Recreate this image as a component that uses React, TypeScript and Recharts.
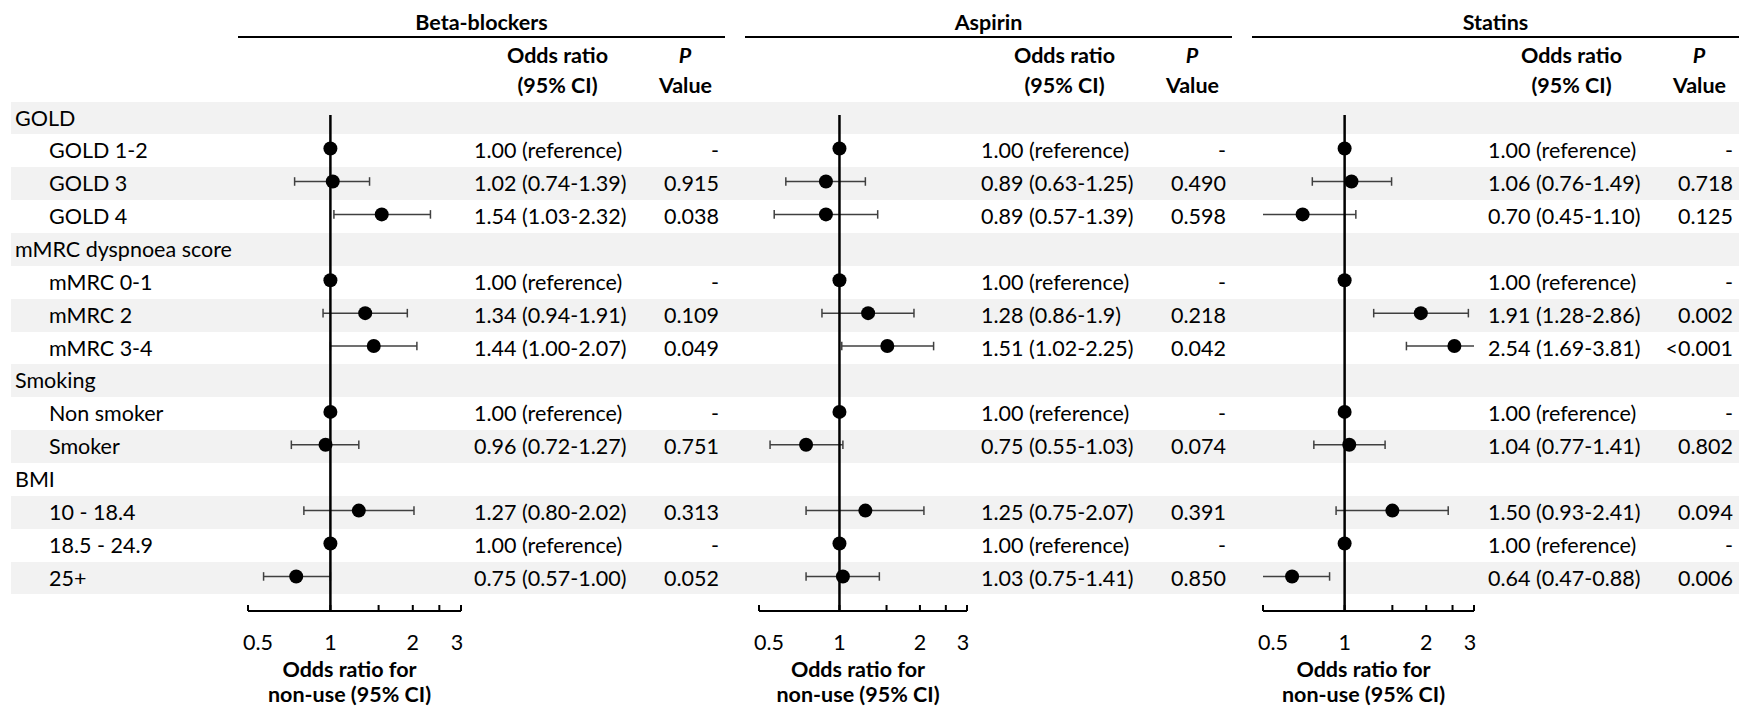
import React from 'react';
import { ScatterChart, Scatter, XAxis, YAxis, ReferenceLine } from 'recharts';

const drugNames = ['Beta-blockers', 'Aspirin', 'Statins'];

const rowLabels = [
  'GOLD', 'GOLD 1-2', 'GOLD 3', 'GOLD 4',
  'mMRC dyspnoea score', 'mMRC 0-1', 'mMRC 2', 'mMRC 3-4',
  'Smoking', 'Non smoker', 'Smoker',
  'BMI', '10 - 18.4', '18.5 - 24.9', '25+',
];
const isGroupRow = [true, false, false, false, true, false, false, false, true, false, false, true, false, false, false];

// Beta-blockers
const betaOr = [null, 1.0, 1.02, 1.54, null, 1.0, 1.34, 1.44, null, 1.0, 0.96, null, 1.27, 1.0, 0.75];
const betaLow = [null, null, 0.74, 1.03, null, null, 0.94, 1.0, null, null, 0.72, null, 0.8, null, 0.57];
const betaHigh = [null, null, 1.39, 2.32, null, null, 1.91, 2.07, null, null, 1.27, null, 2.02, null, 1.0];
const betaCi = ['', '1.00 (reference)', '1.02 (0.74-1.39)', '1.54 (1.03-2.32)', '', '1.00 (reference)', '1.34 (0.94-1.91)', '1.44 (1.00-2.07)', '', '1.00 (reference)', '0.96 (0.72-1.27)', '', '1.27 (0.80-2.02)', '1.00 (reference)', '0.75 (0.57-1.00)'];
const betaP = ['', '-', '0.915', '0.038', '', '-', '0.109', '0.049', '', '-', '0.751', '', '0.313', '-', '0.052'];

// Aspirin
const aspOr = [null, 1.0, 0.89, 0.89, null, 1.0, 1.28, 1.51, null, 1.0, 0.75, null, 1.25, 1.0, 1.03];
const aspLow = [null, null, 0.63, 0.57, null, null, 0.86, 1.02, null, null, 0.55, null, 0.75, null, 0.75];
const aspHigh = [null, null, 1.25, 1.39, null, null, 1.9, 2.25, null, null, 1.03, null, 2.07, null, 1.41];
const aspCi = ['', '1.00 (reference)', '0.89 (0.63-1.25)', '0.89 (0.57-1.39)', '', '1.00 (reference)', '1.28 (0.86-1.9)', '1.51 (1.02-2.25)', '', '1.00 (reference)', '0.75 (0.55-1.03)', '', '1.25 (0.75-2.07)', '1.00 (reference)', '1.03 (0.75-1.41)'];
const aspP = ['', '-', '0.490', '0.598', '', '-', '0.218', '0.042', '', '-', '0.074', '', '0.391', '-', '0.850'];

// Statins
const statOr = [null, 1.0, 1.06, 0.7, null, 1.0, 1.91, 2.54, null, 1.0, 1.04, null, 1.5, 1.0, 0.64];
const statLow = [null, null, 0.76, 0.45, null, null, 1.28, 1.69, null, null, 0.77, null, 0.93, null, 0.47];
const statHigh = [null, null, 1.49, 1.1, null, null, 2.86, 3.81, null, null, 1.41, null, 2.41, null, 0.88];
const statCi = ['', '1.00 (reference)', '1.06 (0.76-1.49)', '0.70 (0.45-1.10)', '', '1.00 (reference)', '1.91 (1.28-2.86)', '2.54 (1.69-3.81)', '', '1.00 (reference)', '1.04 (0.77-1.41)', '', '1.50 (0.93-2.41)', '1.00 (reference)', '0.64 (0.47-0.88)'];
const statP = ['', '-', '0.718', '0.125', '', '-', '0.002', '<0.001', '', '-', '0.802', '', '0.094', '-', '0.006'];

const xTicks = [0.5, 1, 1.5, 2, 2.5, 3];
const xTickLabels = [0.5, 1, 2, 3];
const X_MIN = 0.5;
const X_MAX = 3;

// layout
const W = 1739;
const H = 708;
const ROW0 = 118;
const ROWH = 32.86;
const PLOT_TOP = 115;
const PLOT_BOTTOM = 611;
const panelLeft = [238, 745, 1252];
const axisStart = [248, 759, 1263];
const axisEnd = [461, 967, 1474];
const PAD = 40;
const FONT = "Lato, 'Open Sans', sans-serif";
const FS = 21.5;

const panels = [
  { or: betaOr, low: betaLow, high: betaHigh, ci: betaCi, p: betaP },
  { or: aspOr, low: aspLow, high: aspHigh, ci: aspCi, p: aspP },
  { or: statOr, low: statLow, high: statHigh, ci: statCi, p: statP },
];

const OddsTick = (props: any) => {
  const { x, y, payload } = props;
  const show = xTickLabels.includes(payload.value);
  // end labels sit a little inside the axis, as in the source figure
  const dx = payload.value === X_MIN ? 10 : payload.value === X_MAX ? -4 : 0;
  return (
    <g>
      <line x1={x} x2={x} y1={y} y2={y - 6} stroke="#000" strokeWidth={2} />
      {show && (
        <text x={x + dx} y={y + 31} textAnchor="middle" dominantBaseline="central" fontSize={FS} fontFamily={FONT} fill="#000">
          {payload.value}
        </text>
      )}
    </g>
  );
};

const AxisTitle = (props: any) => {
  const { viewBox } = props;
  const cx = viewBox.x + viewBox.width / 2 - 5;
  return (
    <g fontFamily={FONT} fontSize={FS} fontWeight={700} fill="#000" textAnchor="middle">
      <text x={cx} y={viewBox.y + 58} dominantBaseline="central">Odds ratio for</text>
      <text x={cx} y={viewBox.y + 83} dominantBaseline="central">non-use (95% CI)</text>
    </g>
  );
};

const ForestPanel = ({ idx }: { idx: number }) => {
  const d = panels[idx];
  const points = d.or
    .map((v, i) => (v == null ? null : { x: v, y: i }))
    .filter(Boolean) as { x: number; y: number }[];
  const whiskers = d.low
    .map((lo, i) => (lo == null ? null : { lo: lo as number, hi: d.high[i] as number, y: i }))
    .filter(Boolean) as { lo: number; hi: number; y: number }[];

  const chartW = axisEnd[idx] - axisStart[idx] + PAD * 2;
  const chartH = H - PLOT_TOP;

  return (
    <div style={{ position: 'absolute', left: axisStart[idx] - PAD, top: PLOT_TOP }}>
      <ScatterChart width={chartW} height={chartH} margin={{ top: 0, right: PAD, bottom: 0, left: PAD }}>
        <XAxis
          type="number"
          dataKey="x"
          scale="log"
          domain={[X_MIN, X_MAX]}
          allowDataOverflow
          ticks={xTicks}
          interval={0}
          height={chartH - (PLOT_BOTTOM - PLOT_TOP)}
          axisLine={{ stroke: '#000', strokeWidth: 2 }}
          tickLine={false}
          tickSize={0}
          tickMargin={0}
          tick={<OddsTick />}
          label={<AxisTitle />}
        />
        <YAxis type="number" dataKey="y" domain={[-0.02, 15.05]} reversed hide />
        {whiskers.map((w) => (
          <ReferenceLine
            key={`w${w.y}`}
            segment={[{ x: Math.max(w.lo, X_MIN), y: w.y }, { x: Math.min(w.hi, X_MAX), y: w.y }]}
            stroke="#404040"
            strokeWidth={1.5}
            ifOverflow="visible"
          />
        ))}
        {whiskers.filter((w) => w.lo >= X_MIN).map((w) => (
          <ReferenceLine
            key={`cl${w.y}`}
            segment={[{ x: w.lo, y: w.y - 0.13 }, { x: w.lo, y: w.y + 0.13 }]}
            stroke="#404040"
            strokeWidth={1.5}
            ifOverflow="visible"
          />
        ))}
        {whiskers.filter((w) => w.hi <= X_MAX).map((w) => (
          <ReferenceLine
            key={`ch${w.y}`}
            segment={[{ x: w.hi, y: w.y - 0.13 }, { x: w.hi, y: w.y + 0.13 }]}
            stroke="#404040"
            strokeWidth={1.5}
            ifOverflow="visible"
          />
        ))}
        <ReferenceLine x={1} stroke="#000" strokeWidth={2.5} ifOverflow="visible" />
        <Scatter
          data={points}
          isAnimationActive={false}
          shape={(p: any) => <circle cx={p.cx} cy={p.cy} r={7} fill="#000" />}
        />
      </ScatterChart>
    </div>
  );
};

const txt = (style: React.CSSProperties): React.CSSProperties => ({
  position: 'absolute',
  whiteSpace: 'nowrap',
  ...style,
});

export default function App() {
  return (
    <div
      style={{
        position: 'absolute',
        left: 0,
        top: 0,
        width: W,
        height: H,
        overflow: 'hidden',
        background: '#fff',
        fontFamily: FONT,
        fontSize: FS,
        color: '#000',
      }}
    >
      {/* stripes */}
      {rowLabels.map((_, i) =>
        i % 2 === 0 ? (
          <div
            key={`band${i}`}
            style={{ position: 'absolute', left: 11, width: W - 11, top: ROW0 - ROWH / 2 + i * ROWH, height: ROWH, background: '#f2f2f2' }}
          />
        ) : null
      )}

      {/* row labels */}
      {rowLabels.map((lab, i) => (
        <div
          key={`lab${i}`}
          style={txt({ left: isGroupRow[i] ? 15 : 49, top: ROW0 - ROWH / 2 + i * ROWH, height: ROWH, lineHeight: `${ROWH}px` })}
        >
          {lab}
        </div>
      ))}

      {/* headers and columns */}
      {drugNames.map((name, k) => {
        const L = panelLeft[k];
        return (
          <React.Fragment key={name}>
            <div style={txt({ left: L + 243.5 - 150, width: 300, textAlign: 'center', top: 22 - 15, height: 30, lineHeight: '30px', fontWeight: 700 })}>
              {name}
            </div>
            <div style={{ position: 'absolute', left: L, width: Math.min(487, W - L), top: 35.5, height: 2.5, background: '#000' }} />
            <div style={txt({ left: L + 319.5 - 100, width: 200, textAlign: 'center', top: 55 - 15, height: 30, lineHeight: '30px', fontWeight: 700 })}>
              Odds ratio
            </div>
            <div style={txt({ left: L + 319.5 - 100, width: 200, textAlign: 'center', top: 85 - 15, height: 30, lineHeight: '30px', fontWeight: 700 })}>
              (95% CI)
            </div>
            <div style={txt({ left: L + 447 - 50, width: 100, textAlign: 'center', top: 55 - 15, height: 30, lineHeight: '30px', fontWeight: 700, fontStyle: 'italic' })}>
              P
            </div>
            <div style={txt({ left: L + 447.5 - 50, width: 100, textAlign: 'center', top: 85 - 15, height: 30, lineHeight: '30px', fontWeight: 700 })}>
              Value
            </div>
            {panels[k].ci.map((c, i) =>
              c ? (
                <div key={`ci${k}-${i}`} style={txt({ left: L + 236, top: ROW0 - ROWH / 2 + i * ROWH, height: ROWH, lineHeight: `${ROWH}px` })}>
                  {c}
                </div>
              ) : null
            )}
            {panels[k].p.map((pv, i) =>
              pv ? (
                <div
                  key={`p${k}-${i}`}
                  style={txt({ left: L + 481 - 120, width: 120, textAlign: 'right', top: ROW0 - ROWH / 2 + i * ROWH, height: ROWH, lineHeight: `${ROWH}px` })}
                >
                  {pv}
                </div>
              ) : null
            )}
          </React.Fragment>
        );
      })}

      {/* forest plots */}
      {drugNames.map((name, k) => (
        <ForestPanel key={`fp${name}`} idx={k} />
      ))}
    </div>
  );
}
